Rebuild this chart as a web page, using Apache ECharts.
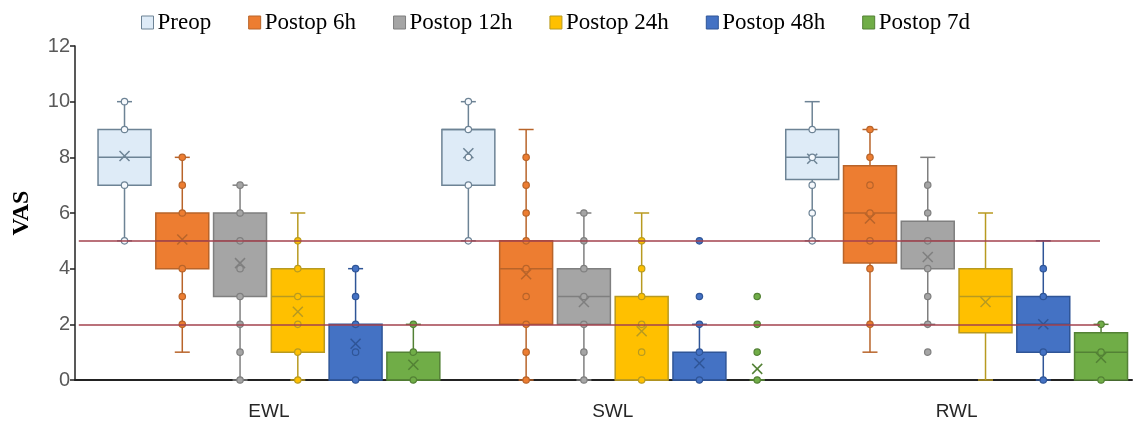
<!DOCTYPE html>
<html>
<head>
<meta charset="utf-8">
<script src="https://cdn.jsdelivr.net/npm/echarts@6/dist/echarts.min.js"></script>
<style>html,body{margin:0;padding:0;background:#fff;}#c{width:1134px;height:422px;}</style>
</head>
<body>
<div id="c"></div>
<script>
// ---- data ----
const categories = ['EWL', 'SWL', 'RWL'];
const seriesNames = ['Preop', 'Postop 6h', 'Postop 12h', 'Postop 24h', 'Postop 48h', 'Postop 7d'];
const yTicks = [0, 2, 4, 6, 8, 10, 12];
const refLines = [5, 2];

// [min, q1, median, q3, max] per category
const preopBox = [[5, 7, 8, 9, 10], [5, 7, 9, 9, 10], [5, 7.2, 8, 9, 10]];
const postop6hBox = [[1, 4, 5, 6, 8], [0, 2, 4, 5, 9], [1, 4.2, 6, 7.7, 9]];
const postop12hBox = [[0, 3, 5, 6, 7], [0, 2, 3, 4, 6], [2, 4, 5, 5.7, 8]];
const postop24hBox = [[0, 1, 3, 4, 6], [0, 0, 0, 3, 6], [0, 1.7, 3, 4, 6]];
const postop48hBox = [[0, 0, 0, 2, 4], [0, 0, 0, 1, 2], [0, 1, 2, 3, 5]];
const postop7dBox = [[0, 0, 0, 1, 2], [0, 0, 0, 0, 0], [0, 0, 1, 1.7, 2]];

const preopMean = [8.05, 8.15, 7.95];
const postop6hMean = [5.05, 3.8, 5.8];
const postop12hMean = [4.2, 2.8, 4.42];
const postop24hMean = [2.45, 1.75, 2.8];
const postop48hMean = [1.3, 0.6, 2.0];
const postop7dMean = [0.55, 0.4, 0.8];

const preopPoints = [[5, 7, 9, 10], [5, 7, 8, 9, 10], [5, 6, 7, 8, 9]];
const postop6hPoints = [[2, 3, 4, 6, 7, 8], [0, 1, 2, 3, 4, 5, 6, 7, 8], [2, 4, 5, 6, 7, 8, 9]];
const postop12hPoints = [[0, 1, 2, 3, 4, 5, 6, 7], [0, 1, 2, 3, 4, 5, 6], [1, 2, 3, 4, 5, 6, 7]];
const postop24hPoints = [[0, 1, 2, 3, 4, 5], [0, 1, 2, 3, 4, 5], []];
const postop48hPoints = [[0, 1, 2, 3, 4], [0, 1, 2, 3, 5], [0, 1, 3, 4]];
const postop7dPoints = [[0, 1, 2], [0, 1, 2, 3], [0, 1, 2]];

// ---- styles ----
const fills = ['#deebf7', '#ed7d31', '#a5a5a5', '#ffc000', '#4472c4', '#70ad47'];
const strokes = ['#6d8395', '#b8642a', '#7f7f7f', '#b89a20', '#2f5597', '#538135'];
const pointFills = ['#f6f9fd', '#ed7d31', '#a5a5a5', '#ffc000', '#4472c4', '#70ad47'];

const boxes = [preopBox, postop6hBox, postop12hBox, postop24hBox, postop48hBox, postop7dBox];
const means = [preopMean, postop6hMean, postop12hMean, postop24hMean, postop48hMean, postop7dMean];
const points = [preopPoints, postop6hPoints, postop12hPoints, postop24hPoints, postop48hPoints, postop7dPoints];

const XMIN = -0.564, XMAX = 2.51;
const SPACING = 0.168, BOXW = 0.154;
const REF_START = -0.553, REF_END = 2.417;

function boxRender(si) {
  return function (params, api) {
    const cat = api.value(0);
    const unit = api.size([1, 0])[0];
    const off = (si - 2.5) * SPACING * unit;
    const hw = BOXW * unit / 2;
    const c = api.coord([cat, 0]);
    const x = c[0] + off;
    const y = v => api.coord([cat, v])[1];
    const yMin = y(api.value(1)), yQ1 = y(api.value(2)), yMed = y(api.value(3)),
          yQ3 = y(api.value(4)), yMax = y(api.value(5)), yMean = y(api.value(6));
    const lw = { stroke: strokes[si], lineWidth: 1.5, fill: null };
    const capHw = 7.5;
    const children = [];
    if (yMin !== yQ1) children.push({ type: 'line', shape: { x1: x, y1: yMin, x2: x, y2: yQ1 }, style: lw });
    if (yMax !== yQ3) children.push({ type: 'line', shape: { x1: x, y1: yQ3, x2: x, y2: yMax }, style: lw });
    children.push({ type: 'line', shape: { x1: x - capHw, y1: yMax, x2: x + capHw, y2: yMax }, style: lw });
    children.push({ type: 'line', shape: { x1: x - capHw, y1: yMin, x2: x + capHw, y2: yMin }, style: lw });
    if (yQ1 !== yQ3) {
      children.push({ type: 'rect', shape: { x: x - hw, y: yQ3, width: 2 * hw, height: yQ1 - yQ3 },
        style: { fill: fills[si], stroke: strokes[si], lineWidth: 1.5 } });
      children.push({ type: 'line', shape: { x1: x - hw, y1: yMed, x2: x + hw, y2: yMed }, style: lw });
    }
    const m = 5;
    children.push({ type: 'line', shape: { x1: x - m, y1: yMean - m, x2: x + m, y2: yMean + m }, style: lw });
    children.push({ type: 'line', shape: { x1: x - m, y1: yMean + m, x2: x + m, y2: yMean - m }, style: lw });
    return { type: 'group', children: children };
  };
}

function pointRender(si) {
  return function (params, api) {
    const cat = api.value(0);
    const unit = api.size([1, 0])[0];
    const off = (si - 2.5) * SPACING * unit;
    const p = api.coord([cat, api.value(1)]);
    return { type: 'circle', shape: { cx: p[0] + off, cy: p[1], r: 3.2 },
      style: { fill: pointFills[si], stroke: strokes[si], lineWidth: 1.2 } };
  };
}

const series = [];
seriesNames.forEach((name, si) => {
  series.push({
    type: 'custom', name: name, z: 2,
    renderItem: boxRender(si),
    itemStyle: { color: fills[si], borderColor: strokes[si] },
    encode: { x: 0, y: [1, 2, 3, 4, 5] },
    data: categories.map((cname, ci) => [ci].concat(boxes[si][ci]).concat([means[si][ci]]))
  });
  const pd = [];
  categories.forEach((cname, ci) => points[si][ci].forEach(v => pd.push([ci, v])));
  series.push({
    type: 'custom', name: name, z: 4,
    renderItem: pointRender(si),
    itemStyle: { color: fills[si], borderColor: strokes[si] },
    encode: { x: 0, y: 1 },
    data: pd
  });
});
series.push({
  type: 'line', name: 'ref', data: [], z: 3, silent: true,
  markLine: {
    silent: true, symbol: 'none', animation: false,
    label: { show: false },
    lineStyle: { color: '#a3424e', width: 1.5, type: 'solid' },
    data: refLines.map(v => [{ coord: [REF_START, v] }, { coord: [REF_END, v] }])
  }
});

const chart = echarts.init(document.getElementById('c'), null, { renderer: 'canvas' });
chart.setOption({
  animation: false,
  backgroundColor: '#fff',
  legend: {
    left: 136, top: 6,
    itemWidth: 12, itemHeight: 13, itemGap: 37,
    icon: 'rect',
    textStyle: { fontFamily: 'Liberation Serif', fontSize: 23, color: '#000', padding: [0, 0, 0, -1] },
    data: seriesNames.map((n, si) => ({ name: n, itemStyle: { color: fills[si], borderColor: strokes[si], borderWidth: 1 } }))
  },
  grid: { left: 75, right: 2, top: 46, bottom: 42 },
  xAxis: {
    type: 'value', min: XMIN, max: XMAX,
    splitLine: { show: false },
    axisTick: { show: false },
    axisLine: { show: true, onZero: false, lineStyle: { color: '#222', width: 2 } },
    axisLabel: {
      customValues: [0, 1, 2],
      formatter: v => categories[Math.round(v)],
      fontFamily: 'Liberation Sans', fontSize: 19, color: '#262626', margin: 22
    }
  },
  yAxis: {
    type: 'value', min: 0, max: 12, interval: 2,
    name: 'VAS', nameLocation: 'middle', nameGap: 41,
    nameTextStyle: { fontFamily: 'Liberation Serif', fontWeight: 'bold', fontSize: 24, color: '#000' },
    splitLine: { show: false },
    axisLine: { show: true, onZero: false, lineStyle: { color: '#222', width: 1.5 } },
    axisTick: { show: true, length: 5, lineStyle: { color: '#222', width: 1.5 } },
    axisLabel: { fontFamily: 'Liberation Sans', fontSize: 20, color: '#595959', margin: 5,
      formatter: v => yTicks.indexOf(v) >= 0 ? String(v) : '' }
  },
  series: series
});
</script>
</body>
</html>
